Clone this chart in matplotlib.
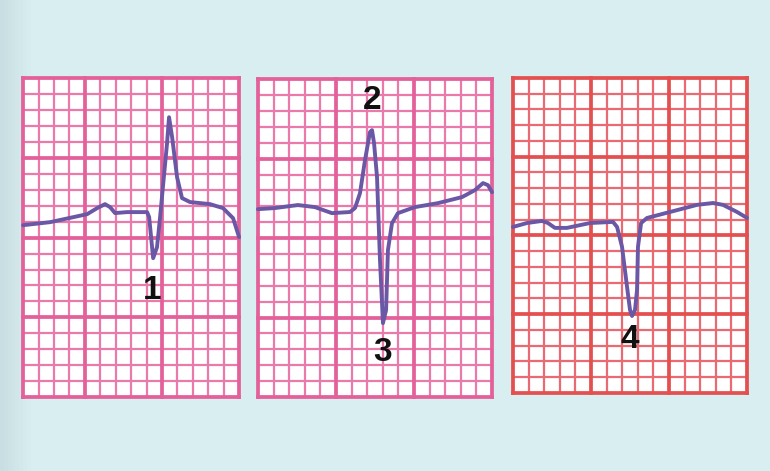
import matplotlib
matplotlib.use('Agg')
import matplotlib.pyplot as plt
import numpy as np

# colours
C_BG = '#d9eef0'
C_PINK = '#e4609a'
C_PINK_MINOR = '#e97aab'
C_RED = '#e4504f'
C_RED_MINOR = '#ea6a74'
C_TRACE = '#6a58a6'

# trace samples in small-square (mm) units: x from left edge, y from bottom
p1_x = [0, 1.75, 4.15, 4.80, 5.31, 5.64, 5.96, 6.74, 8.04, 8.17, 8.43, 8.68, 8.88,
        9.33, 9.46, 9.66, 9.98, 10.30, 10.82, 12.12, 12.96, 13.61, 14.0]
p1_y = [10.78, 10.97, 11.47, 11.85, 12.10, 11.91, 11.54, 11.60, 11.60, 11.29, 8.71,
        9.40, 11.29, 15.92, 17.55, 16.30, 13.79, 12.48, 12.23, 12.10, 11.85, 11.22, 10.03]

p2_x = [0, 1.09, 2.56, 3.65, 4.74, 5.90, 6.22, 6.54, 6.86, 7.18, 7.31, 7.44, 7.63,
        7.82, 8.01, 8.21, 8.33, 8.59, 8.97, 10.06, 11.54, 13.08, 13.91, 14.42, 14.74, 15.0]
p2_y = [11.82, 11.89, 12.08, 11.95, 11.57, 11.64, 11.89, 12.83, 14.91, 16.67, 16.79,
        15.97, 13.84, 8.62, 4.65, 5.47, 9.25, 10.94, 11.57, 11.95, 12.20, 12.58, 13.02,
        13.46, 13.33, 12.89]

p3_x = [0, 0.90, 1.86, 2.24, 2.69, 3.46, 4.94, 6.41, 6.67, 6.99, 7.31, 7.50, 7.63,
        7.82, 7.95, 8.01, 8.21, 8.59, 10.06, 11.79, 12.82, 13.46, 14.36, 15.0]
p3_y = [10.54, 10.79, 10.92, 10.79, 10.48, 10.48, 10.79, 10.86, 10.54, 9.27, 6.73,
        5.27, 4.89, 5.27, 6.54, 9.27, 10.79, 11.11, 11.49, 11.94, 12.06, 11.94, 11.49, 11.11]

# grid: width in small squares and where the heavy lines go
p1_cols, p1_major = 14, [0, 4, 9, 14]
p23_cols, p23_major = 15, [0, 5, 10, 15]
rows, row_major = 20, [0, 5, 10, 15, 20]

labels = ['1', '2', '3', '4']

fig = plt.figure(figsize=(7.7, 4.71), dpi=100, facecolor=C_BG)

# soft darker strip on the left edge
bg = fig.add_axes([0, 0, 1, 1], zorder=-5)
grad = np.clip(np.linspace(0, 1, 200) * 25, 0, 1)[None, :]
bg.imshow(grad, aspect='auto', cmap=matplotlib.colors.LinearSegmentedColormap.from_list(
    'g', ['#c9dee2', C_BG]), extent=[0, 1, 0, 1])
bg.axis('off')


def ecg_panel(rect, ncols, majors, c_major, c_minor, xs, ys):
    ax = fig.add_axes(rect)
    ax.set_facecolor('white')
    ax.set_xlim(0, ncols)
    ax.set_ylim(0, rows)
    for i in range(ncols + 1):
        if i not in majors:
            ax.axvline(i, color=c_minor, lw=1.6, zorder=1)
    for j in range(rows + 1):
        if j not in row_major:
            ax.axhline(j, color=c_minor, lw=1.6, zorder=1)
    for i in majors:
        ax.axvline(i, color=c_major, lw=2.7, zorder=2, clip_on=False)
    for j in row_major:
        ax.axhline(j, color=c_major, lw=2.7, zorder=2, clip_on=False)
    ax.plot(xs, ys, color=C_TRACE, lw=2.8, solid_joinstyle='round',
            solid_capstyle='round', zorder=4, clip_on=False)
    ax.set_xticks([])
    ax.set_yticks([])
    for s in ax.spines.values():
        s.set_visible(False)
    return ax


ax1 = ecg_panel([0.030, 0.157, 0.2805, 0.677], p1_cols, p1_major, C_PINK, C_PINK_MINOR, p1_x, p1_y)
ax2 = ecg_panel([0.335, 0.157, 0.304, 0.675], p23_cols, p23_major, C_PINK, C_PINK_MINOR, p2_x, p2_y)
ax3 = ecg_panel([0.6662, 0.1656, 0.304, 0.669], p23_cols, p23_major, C_RED, C_RED_MINOR, p3_x, p3_y)

lab_kw = dict(ha='center', va='center', fontsize=24, fontweight='bold',
              family=['Liberation Sans', 'DejaVu Sans'], color='#111111', zorder=6)
ax1.text(8.36, 6.7, labels[0], **lab_kw)
ax2.text(7.31, 18.68, labels[1], **lab_kw)
ax2.text(8.01, 2.83, labels[2], **lab_kw)
ax3.text(7.5, 3.37, labels[3], **lab_kw)

fig.savefig('out.png', dpi=100, facecolor=C_BG)
